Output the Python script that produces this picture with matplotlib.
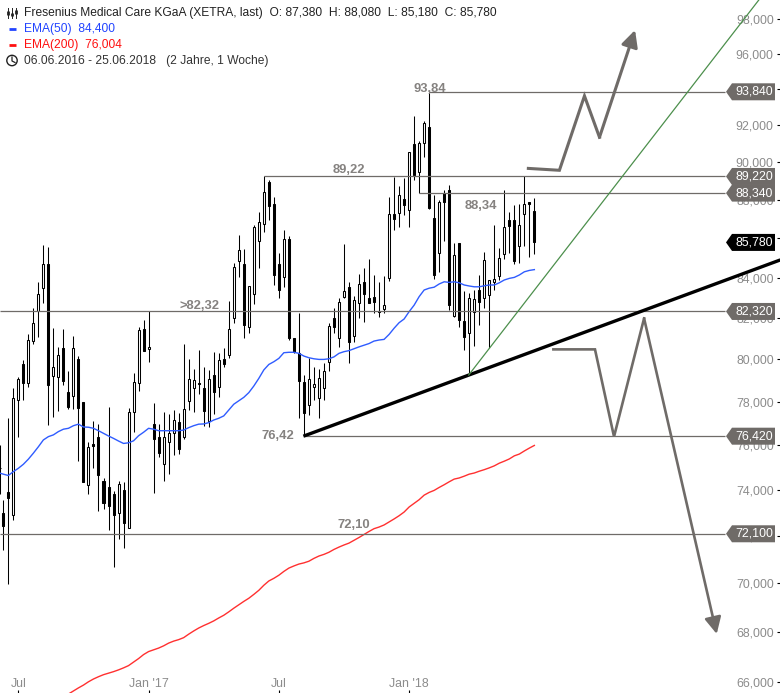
import numpy as np
import matplotlib
matplotlib.use("Agg")
import matplotlib.pyplot as plt
from matplotlib.patches import Polygon, Circle

plt.rcParams['font.family'] = ['Liberation Sans', 'DejaVu Sans']

# weekly candles, oldest first
open_ = [75.00, 72.99, 73.93, 72.93, 78.08, 79.78, 78.87, 80.90, 82.36, 83.47,
         84.67, 79.23, 79.18, 80.53, 78.45, 78.29, 80.00, 77.98, 74.24, 76.05,
         76.37, 74.40, 74.12, 73.81, 73.01, 74.00, 72.33, 77.52, 78.87, 81.46,
         80.48, 76.99, 76.37, 75.15, 76.14, 76.55, 77.06, 76.40, 78.05, 78.67,
         78.87, 78.63, 77.13, 79.26, 78.71, 80.01, 80.21, 81.98, 84.85, 84.68,
         81.57, 83.17, 85.86, 86.71, 88.91, 87.76, 84.68, 84.01, 85.95, 81.01,
         80.29, 78.92, 77.84, 78.71, 78.19, 78.63, 79.89, 81.98, 81.01, 83.02,
         83.51, 81.14, 82.72, 83.79, 82.99, 83.02, 82.33, 82.42, 83.99, 87.26,
         87.31, 88.01, 87.46, 90.95, 89.47, 91.04, 91.88, 87.02, 85.23, 88.36,
         88.50, 82.09, 85.73, 81.85, 81.29, 82.31, 83.38, 83.00, 83.13, 83.79,
         84.09, 85.18, 86.94, 86.94, 85.61, 87.23, 87.87, 87.38]
high = [76.00, 73.57, 77.24, 78.63, 79.15, 79.97, 81.22, 82.48, 83.76, 85.65,
        85.53, 81.50, 80.58, 81.46, 79.45, 81.11, 80.16, 77.98, 76.14, 77.12,
        76.97, 74.52, 77.75, 73.97, 74.42, 74.37, 77.70, 79.34, 81.58, 81.90,
        82.32, 77.94, 76.99, 77.53, 77.44, 77.62, 77.47, 80.72, 80.00, 79.53,
        80.45, 79.65, 79.50, 80.37, 80.32, 80.53, 82.84, 84.72, 86.15, 85.43,
        83.58, 86.68, 87.33, 89.22, 89.03, 88.11, 85.23, 86.41, 86.10, 81.01,
        82.26, 79.26, 80.08, 79.65, 79.54, 79.81, 81.77, 82.48, 82.97, 85.70,
        83.79, 83.08, 84.18, 84.47, 84.96, 84.13, 83.79, 84.08, 88.11, 89.18,
        88.72, 89.16, 90.51, 92.47, 91.15, 92.24, 93.84, 88.24, 87.97, 88.50,
        88.77, 85.73, 85.73, 83.35, 83.22, 83.38, 84.13, 85.27, 83.88, 86.68,
        85.51, 88.50, 87.37, 87.71, 87.77, 89.22, 87.87, 88.08]
low = [73.85, 71.40, 69.99, 72.70, 76.40, 78.08, 78.71, 80.75, 81.09, 82.72,
       76.94, 77.32, 77.59, 78.79, 77.67, 77.67, 75.30, 74.37, 73.83, 74.97,
       73.10, 73.19, 72.26, 70.69, 71.87, 71.50, 72.33, 76.63, 78.51, 80.42,
       79.89, 73.88, 75.49, 74.42, 74.72, 75.57, 75.61, 76.28, 77.62, 77.53,
       78.39, 76.88, 76.83, 77.43, 78.24, 79.65, 80.05, 81.77, 84.04, 81.04,
       81.29, 82.67, 84.50, 86.33, 86.95, 83.63, 83.00, 83.54, 80.93, 80.32,
       77.24, 76.42, 77.39, 78.08, 77.24, 78.08, 79.45, 81.29, 80.60, 83.00,
       79.84, 80.85, 81.98, 81.82, 82.72, 82.26, 82.06, 82.23, 83.83, 86.43,
       86.59, 87.20, 86.59, 89.03, 88.33, 90.24, 87.49, 83.93, 84.29, 85.85,
       82.39, 82.06, 81.58, 80.45, 79.34, 80.66, 81.66, 82.48, 80.53, 83.38,
       83.88, 84.95, 85.23, 84.68, 84.75, 85.61, 85.06, 85.18]
close = [75.00, 72.43, 73.64, 78.16, 79.06, 78.90, 80.93, 81.74, 83.18, 84.67,
         78.79, 79.62, 80.19, 78.99, 77.78, 80.53, 77.73, 74.37, 75.91, 75.99,
         74.67, 73.45, 73.32, 72.93, 74.26, 72.58, 77.52, 78.92, 81.40, 80.42,
         80.59, 76.31, 75.67, 76.37, 76.55, 77.15, 75.85, 77.66, 79.06, 79.01,
         78.82, 77.59, 79.06, 78.48, 79.97, 79.78, 81.45, 84.52, 85.39, 81.66,
         83.56, 86.56, 86.81, 88.38, 87.65, 84.13, 83.38, 85.93, 81.04, 80.34,
         78.99, 77.47, 79.06, 78.82, 79.10, 79.45, 81.61, 81.54, 82.77, 83.33,
         80.85, 82.88, 83.68, 83.17, 82.75, 82.77, 82.28, 82.62, 87.26, 86.98,
         88.24, 87.71, 90.51, 89.30, 91.04, 92.09, 87.54, 84.13, 87.85, 87.89,
         82.63, 85.13, 81.90, 81.09, 82.97, 82.93, 82.80, 84.87, 83.88, 83.91,
         84.99, 86.56, 86.64, 84.83, 86.68, 87.75, 87.75, 85.78]

ema50 = [74.75, 74.71, 74.65, 74.82, 74.97, 75.15, 75.38, 75.65, 75.94, 76.25,
         76.40, 76.48, 76.63, 76.74, 76.78, 76.90, 76.97, 76.84, 76.83, 76.78,
         76.67, 76.55, 76.43, 76.32, 76.20, 76.09, 76.12, 76.21, 76.44, 76.60,
         76.78, 76.74, 76.67, 76.67, 76.67, 76.67, 76.67, 76.70, 76.81, 76.90,
         76.97, 76.98, 77.04, 77.16, 77.24, 77.35, 77.62, 77.89, 78.05, 78.21,
         78.43, 78.74, 79.10, 79.50, 79.76, 79.89, 80.05, 80.32, 80.34, 80.34,
         80.29, 80.16, 80.08, 80.03, 80.00, 80.00, 80.03, 80.12, 80.29, 80.37,
         80.42, 80.51, 80.60, 80.68, 80.76, 80.88, 80.93, 80.96, 81.20, 81.50,
         81.77, 81.95, 82.31, 82.63, 83.05, 83.38, 83.47, 83.52, 83.68, 83.79,
         83.76, 83.79, 83.74, 83.63, 83.58, 83.54, 83.54, 83.59, 83.63, 83.63,
         83.74, 83.88, 83.96, 84.01, 84.13, 84.29, 84.36, 84.40]

# EMA200 only comes into view from the 15th candle on
ema200 = [65.53, 65.65, 65.77, 65.88, 66.01, 66.12, 66.21, 66.29, 66.35, 66.41,
          66.48, 66.56, 66.65, 66.79, 66.93, 67.09, 67.21, 67.28, 67.35, 67.44,
          67.55, 67.63, 67.69, 67.77, 67.91, 68.04, 68.16, 68.26, 68.35, 68.45,
          68.57, 68.68, 68.82, 68.97, 69.11, 69.25, 69.38, 69.54, 69.71, 69.92,
          70.10, 70.21, 70.34, 70.50, 70.64, 70.73, 70.81, 70.86, 70.93, 71.05,
          71.15, 71.22, 71.31, 71.43, 71.53, 71.62, 71.70, 71.82, 71.94, 72.07,
          72.20, 72.32, 72.39, 72.48, 72.61, 72.74, 72.88, 73.04, 73.26, 73.42,
          73.58, 73.78, 73.90, 73.99, 74.12, 74.24, 74.37, 74.49, 74.54, 74.62,
          74.71, 74.76, 74.84, 74.91, 74.99, 75.08, 75.20, 75.29, 75.39, 75.53,
          75.61, 75.75, 75.88, 76.00]

y_ticks = [98, 96, 94, 92, 90, 88, 86, 84, 82, 80, 78, 76, 74, 72, 70, 68, 66]
y_labels = ['%d,000' % v for v in y_ticks]
x_tick_pos = [4, 30, 56, 82]
x_tick_labels = ['Jul', "Jan '17", 'Jul', "Jan '18"]

# horizontal levels: price, first candle, right hand tag text
levels = [93.84, 89.22, 88.34, 82.32, 76.42, 72.10]
level_start = [86, 53, 84, 0.3, 61, 0.3]
level_tags = ['93,840', '89,220', '88,340', '82,320', '76,420', '72,100']

# price notes next to the levels
note_text = ['93,84', '89,22', '88,34', '>82,32', '76,42', '72,10']
note_x = [86.1, 70.0, 96.3, 40.1, 55.9, 71.0]
note_y = [93.98, 89.57, 87.68, 82.57, 76.42, 72.50]

# drawn scenario lines (candle position, price)
trend_x = [60.9, 156.1]
trend_y = [76.42, 84.89]
green_x = [93.9, 151.8]
green_y = [79.26, 99.12]
up_x = [105.8, 112.0, 117.0, 120.0]
up_y = [89.65, 89.55, 93.61, 91.33]
up_tip = (127.1, 97.36)
down_x = [110.8, 119.1, 122.9, 128.9]
down_y = [80.48, 80.48, 76.40, 81.98]
down_tip = (143.4, 67.92)

GREY = '#6f6b68'
TICK = '#8c8c8c'

x = np.arange(len(close), dtype=float)
x[0] = 0.39  # first wick sits right on the left edge
open_, high, low, close = map(np.array, (open_, high, low, close))

fig = plt.figure(figsize=(7.8, 6.93), dpi=100)
ax = fig.add_axes([0, 0, 1, 1])
ax.set_yscale('log')
ax.set_xlim(0.341, 156.03)
ax.set_ylim(65.57, 99.12)
for s in ax.spines.values():
    s.set_visible(False)

# candles
ax.vlines(x, low, high, color='black', lw=0.75, zorder=2)
up = close >= open_
body_low = np.minimum(open_, close)
body_h = np.abs(close - open_)
ax.bar(x[up], body_h[up], bottom=body_low[up], width=0.4, facecolor='white',
       edgecolor='black', lw=0.75, zorder=2.1)
ax.bar(x[~up], body_h[~up], bottom=body_low[~up], width=0.4, facecolor='black',
       edgecolor='black', lw=0.75, zorder=2.1)

# moving averages
ax.plot(x, ema50, color='#2f5cff', lw=1.0, zorder=2.5)
ax.plot(x[-len(ema200):], ema200, color='#ff3030', lw=1.0, zorder=2.5)

# levels
ax.hlines(levels, level_start, 145, color=GREY, lw=0.9, zorder=3)
for t, tx, ty in zip(note_text, note_x, note_y):
    ax.text(tx, ty, t, ha='center', va='center', fontsize=9.4, fontweight='bold',
            color='#858280', zorder=4)

# trend lines
ax.plot(trend_x, trend_y, color='black', lw=2.4, solid_capstyle='butt', zorder=3.5)
ax.plot(green_x, green_y, color='#4c8f4c', lw=0.9, zorder=3.5)

# scenario arrows
ax.plot(up_x, up_y, color=GREY, lw=2.2, solid_joinstyle='miter', zorder=3.6)
ax.annotate('', xy=up_tip, xytext=(up_x[-1], up_y[-1]), zorder=3.6,
            arrowprops=dict(arrowstyle='-|>,head_length=1.0,head_width=0.5', color=GREY,
                            lw=2.2, shrinkA=0, shrinkB=0))
ax.plot(down_x, down_y, color=GREY, lw=1.9, solid_joinstyle='miter', zorder=3.6)
ax.annotate('', xy=down_tip, xytext=(down_x[-1], down_y[-1]), zorder=3.6,
            arrowprops=dict(arrowstyle='-|>,head_length=1.0,head_width=0.5', color=GREY,
                            lw=1.9, shrinkA=0, shrinkB=0))

# axes
ax.yaxis.tick_right()
ax.set_yticks(y_ticks)
ax.set_yticklabels(y_labels)
ax.minorticks_off()
ax.tick_params(axis='y', which='major', direction='in', length=2.4, width=0.8, pad=-4.5,
               color='black', labelcolor=TICK, labelsize=8.9)
for lab in ax.get_yticklabels():
    lab.set_ha('right')
ax.set_xticks(x_tick_pos)
ax.set_xticklabels(x_tick_labels)
ax.tick_params(axis='x', direction='in', length=2.4, width=0.8, pad=-10.5,
               color='black', labelcolor=TICK, labelsize=8.9)

# overlay in picture pixels for header and price tags
ov = fig.add_axes([0, 0, 1, 1], facecolor='none')
ov.set_xlim(0, 780)
ov.set_ylim(693, 0)
ov.axis('off')


def price_y(v):
    return 693 - ax.transData.transform((1, v))[1]


def tag(v, text, color):
    y = price_y(v)
    ov.add_patch(Polygon([(726, y), (732, y - 8.5), (775, y - 8.5), (775, y + 8.5), (732, y + 8.5)],
                         closed=True, facecolor=color, edgecolor='none'))
    ov.text(773, y, text, ha='right', va='center', color='white', fontsize=8.9)


for v, t in zip(levels, level_tags):
    tag(v, t, GREY)
tag(close[-1], '85,780', 'black')

# header
HDR = 8.64
ov.text(23.5, 13, 'Fresenius Medical Care KGaA (XETRA, last)  O: 87,380  H: 88,080  L: 85,180  C: 85,780',
        va='center', fontsize=HDR, color='#222222')
ov.text(23.5, 29, 'EMA(50)  84,400', va='center', fontsize=HDR, color='#2244ff')
ov.text(23.5, 45, 'EMA(200)  76,004', va='center', fontsize=HDR, color='#ff1010')
ov.text(23.5, 61, '06.06.2016 - 25.06.2018   (2 Jahre, 1 Woche)', va='center', fontsize=HDR,
        color='#333333')
ov.plot([9, 16], [29, 29], color='#2244ff', lw=2.0, solid_capstyle='butt')
ov.plot([9, 16], [45, 45], color='#ff1010', lw=2.0, solid_capstyle='butt')

# candle icon
for ix, top, bot, b0, b1 in [(7.5, 8, 18, 11, 15), (11.5, 8, 18, 13, 16), (15.5, 8, 18, 10, 14)]:
    ov.plot([ix, ix], [top, bot], color='#222222', lw=0.7)
    ov.plot([ix, ix], [b0, b1], color='#222222', lw=2.0, solid_capstyle='butt')

# clock icon
ov.add_patch(Circle((12, 60.5), 5.2, facecolor='none', edgecolor='#222222', lw=1.0))
ov.plot([12, 12, 15], [57, 61, 62.5], color='#222222', lw=0.9)

fig.savefig('out.png', dpi=100)
